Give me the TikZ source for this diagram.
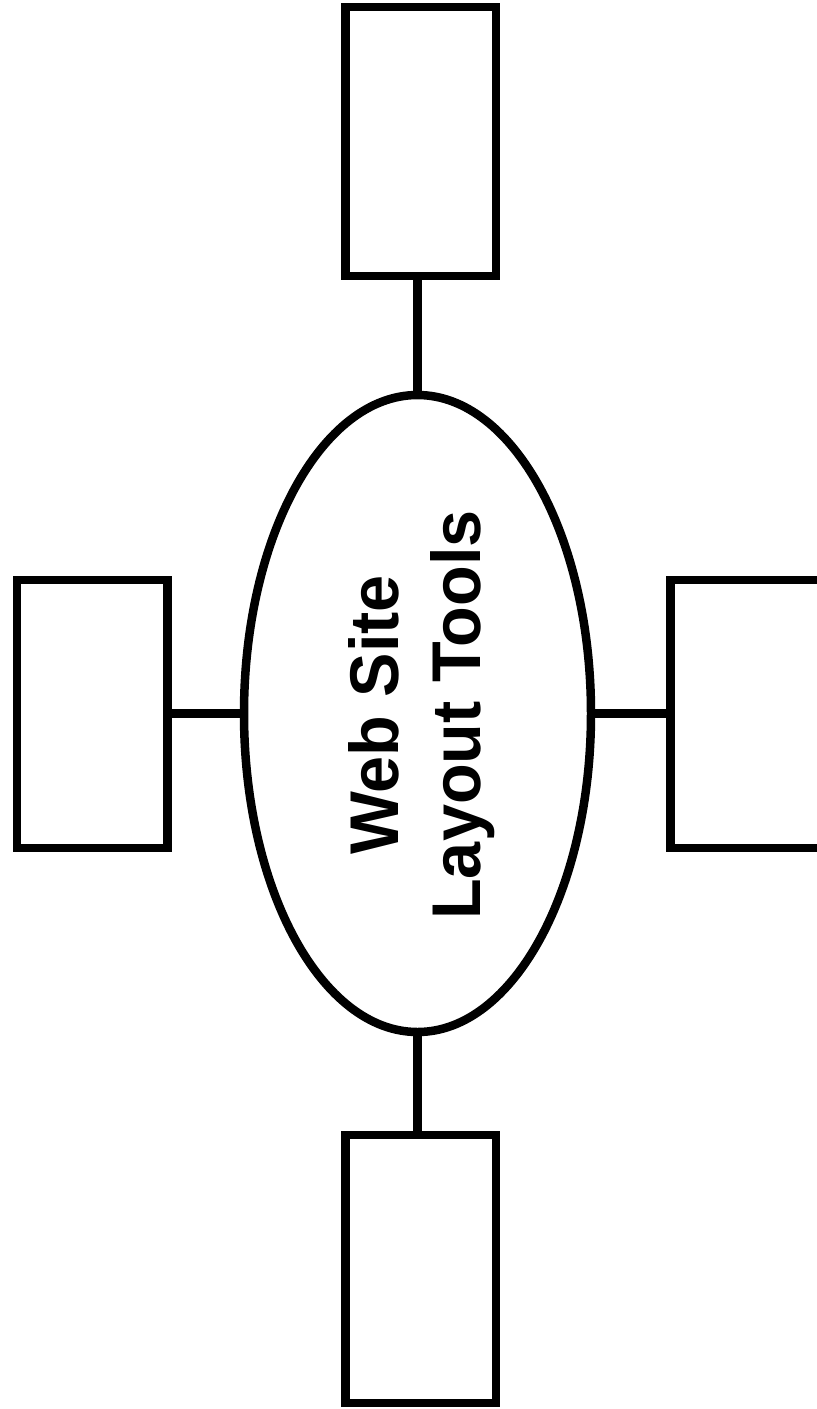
\documentclass[tikz,border=0pt]{standalone}
\usepackage{fontspec}
\setmainfont{Liberation Sans}[FakeStretch=0.965]
\usetikzlibrary{shapes.geometric}
\begin{document}
\begin{tikzpicture}[x=1pt,y=-1pt,
  thick line/.style={line width=8.5pt},
  box/.style={draw, thick line, rectangle, inner sep=0pt, minimum width=150.5pt, minimum height=268pt},
  hub/.style={draw, thick line, ellipse, inner sep=0pt, minimum width=347pt, minimum height=637pt},
  conn/.style={thick line}]
\useasboundingbox (0,0) rectangle (817,1409);
\clip (0,0) rectangle (817,1409);
\node[hub] (center) at (417.5,713.5) {};
\node[box, minimum height=269pt] (top) at (420.75,141.5) {};
\node[box] (left) at (92,714) {};
\node[box] (right) at (745.75,714) {};
\node[box] (bottom) at (420.75,1269) {};
\node[rotate=90, align=center, font=\bfseries\fontsize{69}{82}\selectfont, inner sep=0pt] (title) at (422,715) {Web Site\\Layout Tools};
\draw[conn] (center.north) -- (center.north |- top.south);
\draw[conn] (center.south) -- (center.south |- bottom.north);
\draw[conn] (center.west) -- (center.west -| left.east);
\draw[conn] (center.east) -- (center.east -| right.west);
\end{tikzpicture}
\end{document}
